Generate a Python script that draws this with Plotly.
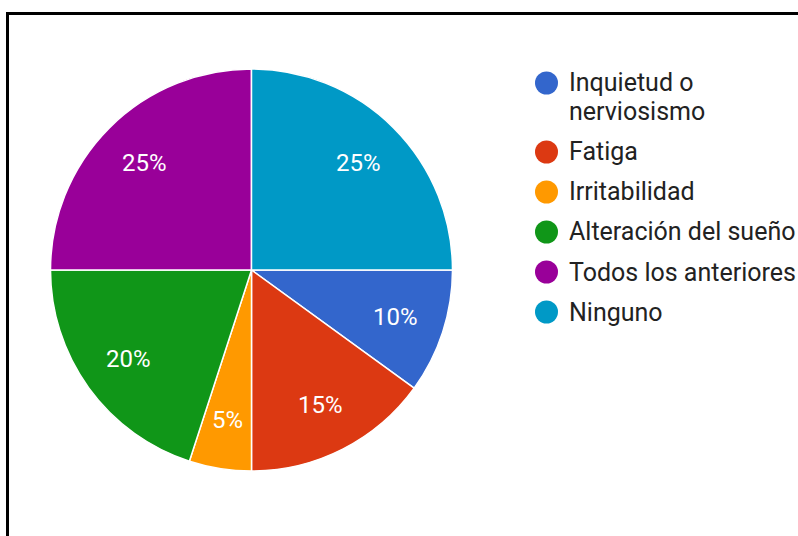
import math
import textwrap
import plotly.graph_objects as go

# Survey answers and their share of responses (%)
labels = [
    "Inquietud o nerviosismo",
    "Fatiga",
    "Irritabilidad",
    "Alteración del sueño",
    "Todos los anteriores",
    "Ninguno",
]
values = [10, 15, 5, 20, 25, 25]
colors = ["#3366CC", "#DC3912", "#FF9900", "#109618", "#990099", "#0099C6"]

W, H = 798, 536
FONT = "Roboto"

# Pie geometry in pixels
CX, CY, R = 251.5, 270.0, 201.0
ROTATION = 90          # first slice starts at 3 o'clock
LABEL_R = 0.755        # radial position of the percentage labels


def px(x):
    return x / W


def py(y):
    return 1 - y / H


fig = go.Figure(
    go.Pie(
        labels=labels,
        values=values,
        sort=False,
        direction="clockwise",
        rotation=ROTATION,
        marker=dict(colors=colors, line=dict(color="white", width=1.5)),
        textinfo="none",
        hoverinfo="label+percent",
        showlegend=False,
        domain=dict(x=[px(CX - R), px(CX + R)], y=[py(CY + R), py(CY - R)]),
    )
)

annotations = []
shapes = []

# Percentage labels placed along each slice's bisector
total = sum(values)
cum = 0
for v in values:
    mid = math.radians(ROTATION + 360 * (cum + v / 2) / total)
    cum += v
    lx = CX + LABEL_R * R * math.sin(mid)
    ly = CY - LABEL_R * R * math.cos(mid)
    annotations.append(dict(
        x=px(lx), y=py(ly), xref="paper", yref="paper",
        text=f"{round(100 * v / total)}%", showarrow=False,
        xanchor="center", yanchor="middle",
        font=dict(family=FONT, size=24, color="white"),
    ))

# Legend: colored dots with wrapped labels
LEG_DOT_X, LEG_TEXT_X = 546.5, 567
LEG_Y0, LINE_H, ITEM_GAP, DOT_R = 83, 29, 40, 11.5
y = LEG_Y0
for lab, col in zip(labels, colors):
    shapes.append(dict(
        type="circle", xref="paper", yref="paper",
        x0=px(LEG_DOT_X - DOT_R), x1=px(LEG_DOT_X + DOT_R),
        y0=py(y + DOT_R), y1=py(y - DOT_R),
        fillcolor=col, line=dict(width=0),
    ))
    lines = textwrap.wrap(lab, 20)
    for i, line in enumerate(lines):
        annotations.append(dict(
            x=px(LEG_TEXT_X), y=py(y + i * LINE_H), xref="paper", yref="paper",
            text=line, showarrow=False, xanchor="left", yanchor="middle",
            font=dict(family=FONT, size=25, color="#222222"),
        ))
    y += (len(lines) - 1) * LINE_H + ITEM_GAP

# Frame around the chart
shapes.append(dict(
    type="rect", xref="paper", yref="paper",
    x0=px(7.5), x1=px(W + 20), y0=py(H + 20), y1=py(13.5),
    line=dict(color="black", width=3), fillcolor="rgba(0,0,0,0)",
))

fig.update_layout(
    width=W, height=H,
    margin=dict(l=0, r=0, t=0, b=0),
    paper_bgcolor="white", plot_bgcolor="white",
    font=dict(family=FONT),
    annotations=annotations,
    shapes=shapes,
)

fig.write_html("out.html")
